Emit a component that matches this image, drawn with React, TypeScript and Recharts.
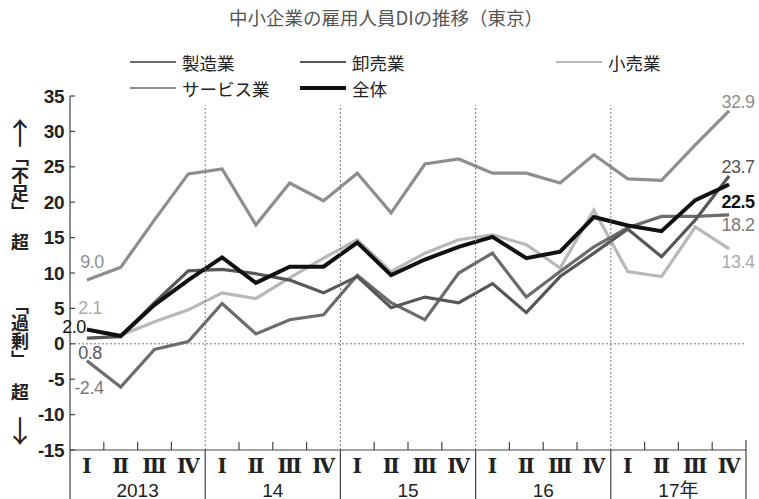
import { LineChart, Line, XAxis, YAxis, ReferenceLine, LabelList } from 'recharts'

// 四半期・年
const QUARTERS = ['Ⅰ', 'Ⅱ', 'Ⅲ', 'Ⅳ']
const YEARS = ['2013', '14', '15', '16', '17年']

// 雇用人員DI (「不足」−「過剰」)
const manufacturing = [-2.4, -6.1, -0.8, 0.3, 5.7, 1.4, 3.4, 4.1, 9.7, 5.8, 3.4, 10.0, 12.8, 6.6, 10.2, 13.7, 16.4, 18.0, 18.0, 18.2]
const wholesale = [0.8, 1.0, 5.8, 10.3, 10.5, 9.9, 9.0, 7.2, 9.5, 5.1, 6.6, 5.8, 8.5, 4.4, 9.5, 12.8, 16.2, 12.3, 17.5, 23.7]
const retail = [2.1, 1.2, 3.1, 4.8, 7.2, 6.4, 9.3, 12.1, 14.7, 10.2, 12.8, 14.7, 15.4, 14.0, 10.7, 18.9, 10.2, 9.5, 16.5, 13.4]
const services = [9.0, 10.8, 17.5, 24.0, 24.7, 16.8, 22.7, 20.2, 24.1, 18.5, 25.4, 26.1, 24.1, 24.1, 22.7, 26.7, 23.3, 23.1, 28.1, 32.9]
const total = [2.0, 1.1, 5.5, 9.0, 12.2, 8.6, 10.9, 10.9, 14.3, 9.7, 11.9, 13.7, 15.1, 12.1, 13.0, 17.9, 16.7, 15.9, 20.3, 22.5]

const Y_TICKS = [-15, -10, -5, 0, 5, 10, 15, 20, 25, 30, 35]

const cats = YEARS.flatMap(y => QUARTERS.map(q => `${y}-${q}`))
const data = cats.map((cat, i) => ({
  cat,
  manufacturing: manufacturing[i],
  wholesale: wholesale[i],
  retail: retail[i],
  services: services[i],
  total: total[i],
}))

const SERIES = [
  { key: 'services', name: 'サービス業', color: '#8e8e8e', width: 3.2, label: '#8e8e8e',
    start: { dx: 5, dy: -18 }, end: { dx: 9, dy: -9 } },
  { key: 'retail', name: '小売業', color: '#b8b8b8', width: 3.2, label: '#aaaaaa',
    start: { dx: 3, dy: -21 }, end: { dx: 9, dy: 13 } },
  { key: 'manufacturing', name: '製造業', color: '#6c6c6c', width: 3.2, label: '#7a7a7a',
    start: { dx: 2, dy: 27 }, end: { dx: 9, dy: 10 } },
  { key: 'wholesale', name: '卸売業', color: '#575757', width: 3.2, label: '#555555',
    start: { dx: 3, dy: 15 }, end: { dx: 9, dy: -9 } },
  { key: 'total', name: '全体', color: '#111111', width: 4, label: '#111111',
    start: { dx: -13, dy: -3 }, end: { dx: 9, dy: 17 } },
]

const LEGEND = [
  { key: 'manufacturing', left: 130, top: 62 },
  { key: 'wholesale', left: 300, top: 62 },
  { key: 'retail', left: 556, top: 62 },
  { key: 'services', left: 130, top: 88 },
  { key: 'total', left: 300, top: 88 },
]

const W = 759
const H = 499
const QW = 676 / 20
const FONT = "'Liberation Sans', 'Noto Sans CJK JP', sans-serif"
const JP = "'Noto Sans CJK JP', sans-serif"

const XTick = ({ x, y, index }: any) => {
  const q = index % 4
  const half = QW / 2
  return (
    <g>
      <text x={x} y={y + 16} textAnchor="middle" dominantBaseline="central"
        fontFamily="'DejaVu Serif', 'Noto Sans CJK JP', serif" fontWeight="bold" fontSize={20} fill="#222">
        {QUARTERS[q]}
      </text>
      {q < 3 && <line x1={x + half} x2={x + half} y1={y} y2={y - 8} stroke="#444" strokeWidth={1.2} />}
      {q === 0 && <line x1={x - half} x2={x - half} y1={y} y2={y + 49} stroke="#444" strokeWidth={1.2} />}
      {q === 0 && index > 0 && (
        <line x1={x - half} x2={x - half} y1={y} y2={y - 345} stroke="#777" strokeDasharray="2 2" />
      )}
      {q === 1 && (
        <text x={x + half} y={y + 40} textAnchor="middle" dominantBaseline="central"
          fontFamily={FONT} fontSize={19} fill="#222">
          {YEARS[Math.floor(index / 4)]}
        </text>
      )}
      {index === cats.length - 1 && (
        <line x1={x + half} x2={x + half} y1={y - 10} y2={y + 49} stroke="#444" strokeWidth={1.2} />
      )}
    </g>
  )
}

const YTick = ({ x, y, payload }: any) => (
  <g>
    <line x1={x} x2={x + 5} y1={y} y2={y} stroke="#444" strokeWidth={1.2} />
    <text x={x - 6} y={y} textAnchor="end" dominantBaseline="central" fontFamily={FONT}
      fontSize={19} fontWeight="bold" letterSpacing={-0.5} fill="#222">
      {payload.value}
    </text>
  </g>
)

const endLabel = (s: typeof SERIES[number]) => (props: any) => {
  const { x, y, value, index } = props
  const pos = index === 0 ? s.start : index === cats.length - 1 ? s.end : null
  if (!pos) return null
  return (
    <text x={x + pos.dx} y={y + pos.dy} textAnchor="middle" dominantBaseline="central"
      fontFamily={FONT} fontSize={18} letterSpacing={-0.5} fill={s.label}
      fontWeight={s.key === 'total' && index > 0 ? 'bold' : 'normal'}>
      {Number(value).toFixed(1)}
    </text>
  )
}

const vStyle: React.CSSProperties = {
  position: 'absolute', writingMode: 'vertical-rl', fontSize: 18, lineHeight: '20px',
  fontFamily: JP, fontWeight: 'bold', color: '#222',
}

const arrowStyle: React.CSSProperties = {
  position: 'absolute', left: 5, fontSize: 30, lineHeight: '30px', fontFamily: JP, color: '#222',
}

export default function App() {
  return (
    <div style={{ position: 'absolute', left: 0, top: 0, width: W, height: H, background: '#fff', fontFamily: FONT }}>
      <div style={{ position: 'absolute', left: 0, width: 772, top: 4, textAlign: 'center',
        fontSize: 18.5, color: '#555', fontFamily: JP }}>
        中小企業の雇用人員DIの推移（東京）
      </div>

      {LEGEND.map(l => {
        const s = SERIES.find(x => x.key === l.key)!
        return (
          <div key={l.key} style={{ position: 'absolute', left: l.left, top: l.top - 12, height: 24,
            display: 'flex', alignItems: 'center' }}>
            <div style={{ width: 46, height: s.key === 'total' ? 4 : 2.5, background: s.color, marginRight: 6 }} />
            <span style={{ fontSize: 17.5, color: '#222', fontFamily: JP }}>{s.name}</span>
          </div>
        )
      })}

      <div style={{ ...arrowStyle, top: 116 }}>↑</div>
      <div style={{ ...vStyle, left: 10, top: 148 }}>「不足」</div>
      <div style={{ ...vStyle, left: 10, top: 233 }}>超</div>
      <div style={{ ...vStyle, left: 10, top: 296 }}>「過剰」</div>
      <div style={{ ...vStyle, left: 10, top: 383 }}>超</div>
      <div style={{ ...arrowStyle, top: 414 }}>↓</div>

      <div style={{ position: 'absolute', left: 0, top: 0 }}>
        <LineChart width={W} height={H} data={data} margin={{ top: 96, right: 13, bottom: 0, left: 0 }}>
          <XAxis dataKey="cat" interval={0} padding={{ left: QW / 2, right: QW / 2 }} height={49}
            tickSize={0} tickMargin={0} tick={(p: any) => <XTick {...p} />}
            axisLine={{ stroke: '#444', strokeWidth: 1.2 }} />
          <YAxis domain={[-15, 35]} ticks={Y_TICKS} interval={0} width={70} tickSize={0} tickMargin={0}
            tick={(p: any) => <YTick {...p} />} axisLine={{ stroke: '#444', strokeWidth: 1.2 }} />
          <ReferenceLine y={0} stroke="#777" strokeDasharray="2 2" />
          {SERIES.map(s => (
            <Line key={s.key} dataKey={s.key} name={s.name} type="linear" stroke={s.color}
              strokeWidth={s.width} dot={false} isAnimationActive={false} strokeLinejoin="miter">
              <LabelList dataKey={s.key} content={endLabel(s)} />
            </Line>
          ))}
        </LineChart>
      </div>
    </div>
  )
}
